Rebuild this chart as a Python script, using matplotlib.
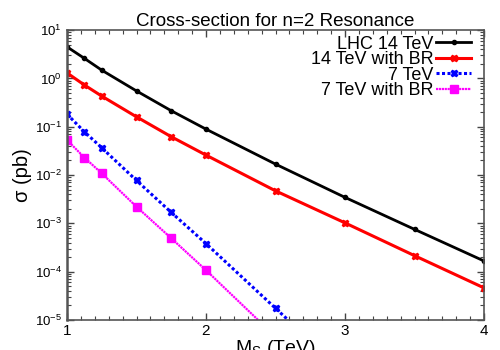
import numpy as np
import matplotlib
matplotlib.use('Agg')
import matplotlib.pyplot as plt
from matplotlib.ticker import MultipleLocator, LogLocator, NullFormatter

plt.rcParams['font.family'] = ['Liberation Sans', 'DejaVu Sans']
plt.rcParams['mathtext.fontset'] = 'custom'
plt.rcParams['mathtext.rm'] = 'Liberation Sans'
plt.rcParams['mathtext.it'] = 'Liberation Sans'

# Mass values (TeV)
mass = [1.0, 1.125, 1.25, 1.5, 1.75, 2.0, 2.5, 3.0, 3.5, 4.0]

# Cross sections (pb)
lhc14 = [4.5, 2.6, 1.48, 0.55, 0.214, 0.089, 0.0168, 0.00344, 7.5e-4, 1.66e-4]
lhc14_br = [1.3, 0.73, 0.43, 0.16, 0.062, 0.0258, 0.0047, 0.00102, 2.14e-4, 4.6e-5]
mass7 = [1.0, 1.125, 1.25, 1.5, 1.75, 2.0, 2.5, 3.0]
lhc7 = [0.182, 0.0785, 0.0366, 0.0077, 0.00168, 3.8e-4, 1.74e-5, 8e-7]
mass7_br = [1.0, 1.125, 1.25, 1.5, 1.75, 2.0, 2.5]
lhc7_br = [0.053, 0.023, 0.0108, 0.0022, 4.9e-4, 1.07e-4, 4.5e-6]

labels = ['LHC 14 TeV', '14 TeV with BR', '7 TeV', '7 TeV with BR']

fig = plt.figure(figsize=(5, 3.5), dpi=100)
ax = fig.add_axes([0.134, 0.086, 0.834, 0.828])

ax.plot(mass, lhc14, color='black', lw=2, marker='o', ms=3, label=labels[0])
ax.plot(mass, lhc14_br, color='red', lw=2.2, marker='X', ms=5, label=labels[1])
ax.plot(mass7, lhc7, color='blue', lw=2.2, ls=(0, (1, 0.8)), marker='X', ms=5, label=labels[2])
ax.plot(mass7_br, lhc7_br, color='magenta', lw=1.6, ls=(0, (1, 0.3)), marker='s', ms=6,
        label=labels[3])

ax.set_yscale('log')
ax.set_xlim(1, 4)
ax.set_ylim(1e-5, 10)

ax.xaxis.set_major_locator(MultipleLocator(1))
ax.xaxis.set_minor_locator(MultipleLocator(0.1))
ax.yaxis.set_major_locator(LogLocator(base=10, numticks=10))
ax.yaxis.set_minor_locator(LogLocator(base=10, subs=np.arange(2, 10), numticks=10))
ax.yaxis.set_minor_formatter(NullFormatter())

ax.tick_params(which='both', direction='in', top=True, right=True, labelsize=9.5, color='#444444')
ax.tick_params(axis='x', labelsize=11)
ax.tick_params(which='major', length=5, width=1)
ax.tick_params(which='minor', length=3, width=0.8)
ax.tick_params(axis='x', pad=3)
for s in ax.spines.values():
    s.set_color('#555555')
    s.set_linewidth(1.2)
ax.spines['left'].set_linewidth(1.8)

ax.set_title('Cross-section for n=2 Resonance', fontsize=13.5, pad=3)
ax.set_ylabel(r'σ (pb)', fontsize=14.5, labelpad=2)
ax.set_xlabel(r'M$_{\rm S}$ (TeV)', fontsize=14, labelpad=0)

leg = ax.legend(loc='upper right', bbox_to_anchor=(0.981, 1.0), markerfirst=False,
                frameon=False, fontsize=13,
                handlelength=1.9, handletextpad=0.15, labelspacing=-0.08,
                borderaxespad=0.15, borderpad=0.15)

fig.savefig('out.png', dpi=100)
